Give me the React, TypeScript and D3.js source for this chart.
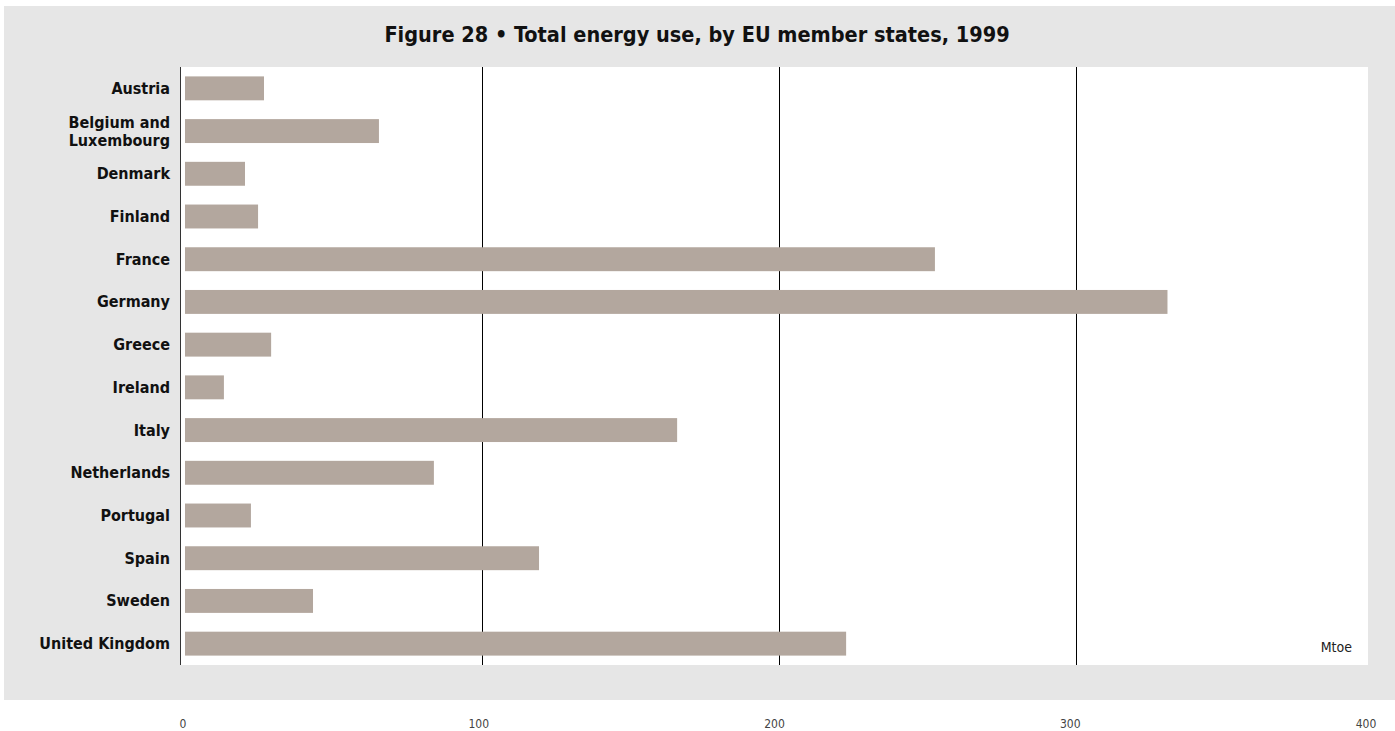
import React from "react";
import * as d3 from "d3";

const countries = [
  "Austria",
  "Belgium and Luxembourg",
  "Denmark",
  "Finland",
  "France",
  "Germany",
  "Greece",
  "Ireland",
  "Italy",
  "Netherlands",
  "Portugal",
  "Spain",
  "Sweden",
  "United Kingdom",
];
const energyUse = [26.6, 65.3, 20.2, 24.6, 252.5, 330.8, 29.0, 13.1, 165.7, 83.8, 22.2, 119.2, 43.1, 222.6];
const gridTicks = [100, 200, 300];
const axisTicks = [0, 100, 200, 300, 400];
const title = "Figure 28 • Total energy use, by EU member states, 1999";
const unit = "Mtoe";

const W = 1395;
const H = 731;
const FONT = "'DejaVu Sans Condensed', 'DejaVu Sans', sans-serif";

export default function App() {
  const plotTop = 67;
  const plotBottom = 665;
  const plotLeft = 180;
  const plotRight = 1368;

  const x = d3.scaleLinear().domain([0, 400]).range([185, 1373]);
  const xLabel = d3.scaleLinear().domain([0, 400]).range([183, 1366]);
  const y = d3
    .scaleBand<string>()
    .domain(countries)
    .range([plotTop, plotBottom])
    .paddingInner(0.44)
    .paddingOuter(0.22);

  return (
    <svg
      width={W}
      height={H}
      style={{ position: "absolute", left: 0, top: 0, background: "#fff" }}
    >
      <rect x={4} y={6} width={W - 4} height={694} fill="#e6e6e6" />
      <rect x={plotLeft} y={plotTop} width={plotRight - plotLeft} height={plotBottom - plotTop} fill="#fff" />
      <text
        x={697}
        y={42}
        textAnchor="middle"
        fontFamily={FONT}
        fontWeight="bold"
        fontSize={21.5}
        fill="#111"
      >
        {title}
      </text>
      {gridTicks.map((t) => (
        <line
          key={t}
          x1={Math.round(x(t)) + 0.5}
          x2={Math.round(x(t)) + 0.5}
          y1={plotTop}
          y2={plotBottom}
          stroke="#000"
          strokeWidth={1}
        />
      ))}
      {countries.map((c, i) => (
        <rect
          key={c}
          x={x(0)}
          y={y(c)}
          width={x(energyUse[i]) - x(0)}
          height={y.bandwidth()}
          fill="#b3a79e"
        />
      ))}
      <line x1={plotLeft + 0.5} x2={plotLeft + 0.5} y1={plotTop} y2={plotBottom} stroke="#333" strokeWidth={1} />
      {countries.map((c) => {
        const cy = (y(c) as number) + y.bandwidth() / 2;
        const parts = c === "Belgium and Luxembourg" ? ["Belgium and", "Luxembourg"] : [c];
        return (
          <text
            key={c}
            x={170}
            y={cy}
            textAnchor="end"
            fontFamily={FONT}
            fontWeight="bold"
            fontSize={16}
            fill="#111"
          >
            {parts.map((p, j) => (
              <tspan key={p} x={170} dy={parts.length === 1 ? 5.5 : j === 0 ? -3.5 : 18}>
                {p}
              </tspan>
            ))}
          </text>
        );
      })}
      <text x={1352} y={652} textAnchor="end" fontFamily={FONT} fontSize={14} fill="#222">
        {unit}
      </text>
      {axisTicks.map((t) => (
        <text
          key={t}
          x={xLabel(t)}
          y={728}
          textAnchor="middle"
          fontFamily={FONT}
          fontSize={12}
          fill="#444"
        >
          {t}
        </text>
      ))}
    </svg>
  );
}
